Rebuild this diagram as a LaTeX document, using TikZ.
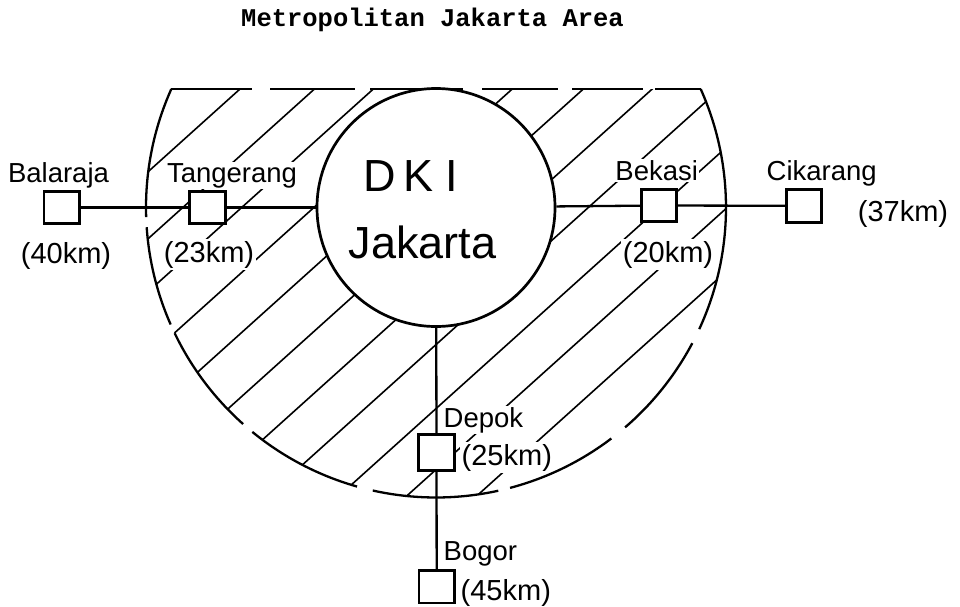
\documentclass[tikz,border=0pt]{standalone}
\usepackage{fontspec}
\setmainfont{Liberation Sans}
\setmonofont{Liberation Mono}
\begin{document}
\begin{tikzpicture}[x=1pt,y=-1pt,
  lbl/.style={font=\fontsize{27.5}{30}\selectfont, inner sep=1.5pt, fill=white},
  km/.style={font=\fontsize{29}{32}\selectfont, inner sep=1.5pt, fill=white},
  big/.style={font=\fontsize{45}{50}\selectfont, inner sep=0pt},
  town/.style={draw, fill=white, line width=2.8pt, minimum width=35.6pt, minimum height=32.6pt, inner sep=0pt},
  link/.style={line width=2.3pt},
  hatch/.style={line width=1.6pt},
  rim/.style={line width=2.3pt},
]
\path[use as bounding box] (0,0) rectangle (960,606);
\coordinate (ctr) at (436,207.5);

% title
\node[font=\ttfamily\bfseries\fontsize{25.5}{28}\selectfont, anchor=base, inner sep=0pt] (title) at (432.5,26.7) {Metropolitan Jakarta Area};

% hatching of the metropolitan ring
\begin{scope}
  \clip (0,89) rectangle (960,606);
  \clip (ctr) circle[radius=290];
  \foreach \c in {305,372,425,490,550,614,676,737,801,862,925}
    \draw[hatch] ({(\c-600)/0.9},600) -- ({(\c-60)/0.9},60);
\end{scope}

% DKI Jakarta core
\node[circle, draw, fill=white, line width=2.7pt, minimum size=238pt, inner sep=0pt] (dki) at (ctr) {};
\node[big, anchor=base west] (dkit) at (363,191.7) {D\kern8pt K\kern12pt I};
\node[big, anchor=base] (jak) at (422.5,258) {Jakarta};

% labels
\node[lbl, anchor=base] (lbal) at (58.5,182) {Balaraja};
\node[lbl, anchor=base] (ltan) at (232,182) {Tangerang};
\node[lbl, anchor=base] (lbek) at (656.7,180) {Bekasi};
\node[lbl, anchor=base] (lcik) at (821.7,180) {Cikarang};
\node[lbl, anchor=base west] (ldep) at (442,427) {Depok};
\node[lbl, anchor=base west] (lbog) at (442,560) {Bogor};
\node[km, anchor=base] (kbal) at (66,263) {(40km)};
\node[km, anchor=base] (ktan) at (209,262) {(23km)};
\node[km, anchor=base] (kbek) at (668,262) {(20km)};
\node[km, anchor=base] (kcik) at (903,221.7) {(37km)};
\node[km, anchor=base west] (kdep) at (460,465) {(25km)};
\node[km, anchor=base west] (kbog) at (459,600.5) {(45km)};

% towns
\node[town] (bal) at (61.7,207.5) {};
\node[town] (tan) at (207.5,207.5) {};
\node[town] (bek) at (659,205.5) {};
\node[town] (cik) at (804,205.8) {};
\node[town, minimum height=35.6pt] (dep) at (436.5,452.5) {};
\node[town] (bog) at (436.7,586.7) {};

% connectors
\draw[link] (bal) -- (tan);
\draw[link] (tan) -- (dki);
\draw[link] (dki) -- (bek);
\draw[link] (bek) -- (cik);
\draw[link] (dki) -- (dep);
\draw[link] (dep) -- (bog);

% outer boundary (broken arc) and dashed top edge
\foreach \a/\b in {-24.1/24.8, 27.9/49.3, 52.8/75.2, 77.6/102.6, 105.8/129.3, 131.7/154.3, 156.2/176.1, 178.1/204.1}
  \draw[rim] (ctr) ++(\a:290) arc[start angle=\a, end angle=\b, radius=290];
\foreach \p/\q in {171/252, 270/355, 370/463, 482/558, 572/643, 655/701}
  \draw[rim] (\p,89) -- (\q,89);
\end{tikzpicture}
\end{document}
